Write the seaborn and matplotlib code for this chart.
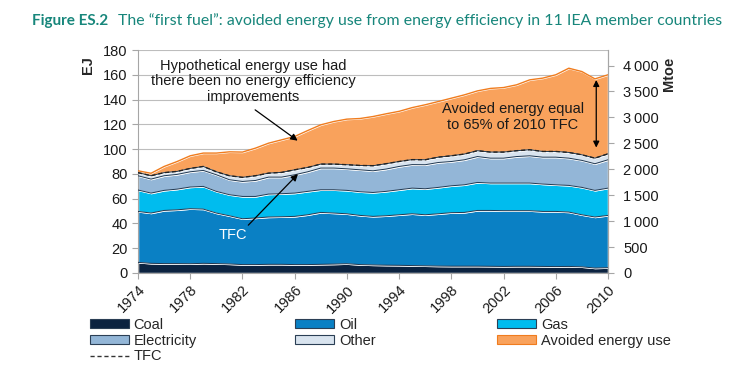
import matplotlib
matplotlib.use("Agg")
import matplotlib.pyplot as plt
import seaborn as sns
import numpy as np
import pandas as pd
from matplotlib.patches import Patch
from matplotlib.lines import Line2D

# --- data (EJ) ---
years = list(range(1974, 2011))
coal = [8.6, 7.8, 7.6, 7.6, 7.5, 7.8, 7.6, 7.3, 6.8, 6.8, 7.0, 7.0, 6.8, 6.8, 7.0, 7.2, 7.5, 6.8, 6.5,
        6.3, 6.2, 6.0, 5.8, 5.6, 5.5, 5.5, 5.5, 5.4, 5.3, 5.4, 5.4, 5.3, 5.2, 5.3, 5.0, 4.0, 4.3]
oil = [41.1, 40.6, 42.9, 43.4, 44.4, 43.8, 40.8, 38.9, 37.0, 37.6, 38.2, 38.4, 38.9, 40.2, 41.9, 41.2,
       40.3, 39.7, 39.2, 39.9, 40.8, 41.8, 41.2, 42.2, 43.2, 43.4, 45.0, 45.1, 45.0, 44.9, 44.9, 44.4,
       44.5, 43.9, 42.0, 41.2, 42.2]
gas = [17.3, 16.1, 16.2, 16.7, 17.5, 18.3, 17.5, 17.0, 18.0, 17.4, 18.5, 18.6, 18.8, 18.9, 18.3, 18.8,
       18.9, 19.1, 19.3, 19.7, 20.2, 20.7, 21.0, 21.3, 21.7, 22.3, 22.6, 22.1, 22.3, 22.3, 22.3, 22.1,
       21.5, 21.5, 22.1, 21.5, 22.0]
electricity = [11.5, 11.3, 11.8, 11.9, 12.3, 12.9, 13.4, 12.1, 12.1, 12.9, 13.7, 13.4, 14.8, 15.8, 17.5,
               17.5, 17.4, 17.7, 17.5, 18.0, 18.8, 19.0, 19.4, 20.1, 19.6, 20.2, 20.9, 20.1, 20.1, 21.4,
               22.0, 21.7, 22.3, 22.0, 21.8, 21.5, 22.9]
other = [2.5, 2.7, 2.5, 2.4, 2.7, 3.2, 2.4, 3.2, 3.3, 3.8, 3.2, 3.8, 4.0, 3.5, 3.2, 3.2, 3.3, 3.5, 4.1,
         4.3, 4.0, 4.0, 4.0, 4.3, 4.6, 4.6, 4.7, 4.9, 4.9, 4.7, 4.9, 4.6, 4.6, 4.6, 4.5, 4.5, 4.8]
avoided = [1.5, 2.0, 5.0, 8.0, 10.2, 10.8, 15.1, 19.3, 20.4, 22.3, 24.2, 26.3, 26.9, 29.8, 31.7, 34.4,
           36.8, 37.9, 39.7, 40.3, 40.5, 42.0, 44.4, 44.9, 46.5, 47.8, 48.3, 51.4, 52.1, 53.2, 56.4,
           59.2, 61.9, 68.0, 67.2, 64.0, 63.8]

labels = ["Coal", "Oil", "Gas", "Electricity", "Other", "Avoided energy use"]
colors = ["#0c2340", "#0a80c4", "#00bcee", "#93b6d7", "#d9e4ef", "#f9a25c"]
xticks = list(range(1974, 2011, 4))
EJ_PER_MTOE = 0.041868

df = pd.DataFrame({"year": years, "Coal": coal, "Oil": oil, "Gas": gas,
                   "Electricity": electricity, "Other": other, "Avoided energy use": avoided})
df["TFC"] = df[["Coal", "Oil", "Gas", "Electricity", "Other"]].sum(axis=1)
df["Total"] = df["TFC"] + df["Avoided energy use"]

sns.set_style("white")
plt.rcParams["font.family"] = ["Liberation Sans", "DejaVu Sans"]

fig = plt.figure(figsize=(7.54, 3.70), dpi=100)
ax = fig.add_axes([138 / 754, 97 / 370, 470 / 754, 223 / 370])

ax.stackplot(df["year"], [df[c] for c in labels], colors=colors, zorder=2)
# thin boundary lines between layers
cum = np.zeros(len(df))
for c in labels[:-1]:
    cum = cum + df[c].values
    ax.plot(df["year"], cum, color="#1d3650", lw=0.7, zorder=3)
sns.lineplot(x=df["year"], y=df["Total"], color="#f07c1e", lw=1.0, ax=ax, zorder=3)
sns.lineplot(x=df["year"], y=df["TFC"], color="#222222", lw=1.0, ls=(0, (3, 2)), ax=ax, zorder=4)

ax.set_xlim(1974, 2010)
ax.set_ylim(0, 180)
ax.set_yticks(range(0, 181, 20))
ax.set_xticks(xticks)
ax.set_xticklabels([str(y) for y in xticks], rotation=45, ha="right", rotation_mode="anchor")
ax.grid(axis="y", color="#bdbdbd", lw=0.8, zorder=0)
ax.set_axisbelow(True)
ax.set_xlabel("")
ax.set_ylabel("")
ax.spines["top"].set_visible(False)
for s in ["left", "bottom", "right"]:
    ax.spines[s].set_color("#a6a6a6")
ax.tick_params(axis="both", colors="#a6a6a6", labelcolor="#1a1a1a", labelsize=10.5,
               length=4, direction="out", left=True, bottom=True)
ax.tick_params(axis="x", pad=3)

ax2 = ax.twinx()
ax2.set_ylim(0, 180 / EJ_PER_MTOE)
mt = list(range(0, 4001, 500))
ax2.set_yticks(mt)
ax2.set_yticklabels([f"{v:,}".replace(",", "\u2009") for v in mt])
ax2.tick_params(axis="y", colors="#a6a6a6", labelcolor="#1a1a1a", labelsize=10.5,
                length=4, direction="out", right=True, pad=7)
for s in ["top", "left", "bottom"]:
    ax2.spines[s].set_visible(False)
ax2.spines["right"].set_color("#a6a6a6")
ax2.grid(False)

fig.text(88 / 754, 1 - 65 / 370, "EJ", rotation=90, weight="bold", fontsize=10.5,
         ha="center", va="center")
fig.text(669 / 754, 1 - 74 / 370, "Mtoe", rotation=90, weight="bold", fontsize=10.5,
         ha="center", va="center")

# annotations
ax.text(1982.8, 173, "Hypothetical energy use had\nthere been no energy efficiency\nimprovements",
        ha="center", va="top", fontsize=10.5, linespacing=1.15, color="#1a1a1a")
ax.annotate("", xy=(1986.4, 105.5), xytext=(1982.8, 133),
            arrowprops=dict(arrowstyle="-|>", color="black", lw=0.9, mutation_scale=10))
ax.text(1981.3, 30.5, "TFC", color="white", fontsize=10.5, ha="center", va="center")
ax.annotate("", xy=(1986.4, 81.5), xytext=(1982.3, 37),
            arrowprops=dict(arrowstyle="-|>", color="black", lw=0.9, mutation_scale=10))
ax.text(2002.7, 126, "Avoided energy equal\nto 65% of 2010 TFC", ha="center", va="center",
        fontsize=10.5, linespacing=1.15, color="#1a1a1a")
ax.annotate("", xy=(2009.1, 158), xytext=(2009.1, 99),
            arrowprops=dict(arrowstyle="<|-|>", color="black", lw=0.9, mutation_scale=9))

# title: two pieces, each scaled to the width it has in the reference
teal = "#17867b"
renderer = fig.canvas.get_renderer()


def fit_text(x0, x1, s, **kw):
    t = fig.text(x0 / 754, 1 - 21 / 370, s, color=teal, fontsize=11, family="Lato",
                 va="center", **kw)
    w = t.get_window_extent(renderer).width
    t.set_fontsize(11 * (x1 - x0) / w)
    return t


fit_text(32, 108, "Figure ES.2", weight="bold")
fit_text(118, 722, "The \u201cfirst fuel\u201d: avoided energy use from energy efficiency in 11 IEA member countries")

# legend, three columns
def box(c):
    return Patch(facecolor=c, edgecolor="#2b3f55", lw=0.8)

cols = [
    (90, [box(colors[0]), box(colors[3]), Line2D([], [], color="#333333", ls=(0, (3, 2)), lw=1)],
     ["Coal", "Electricity", "TFC"]),
    (295, [box(colors[1]), box(colors[4])], ["Oil", "Other"]),
    (497, [box(colors[2]), Patch(facecolor=colors[5], edgecolor="#f07c1e", lw=0.8)],
     ["Gas", "Avoided energy use"]),
]
for x0, hs, ls in cols:
    fig.legend(hs, ls, loc="upper left", bbox_to_anchor=(x0 / 754, 1 - 318 / 370), frameon=False,
               fontsize=10.5, handlelength=2.7, handleheight=0.6, handletextpad=0.3,
               labelspacing=0.12, borderpad=0, borderaxespad=0)

fig.savefig("out.png", dpi=100)
